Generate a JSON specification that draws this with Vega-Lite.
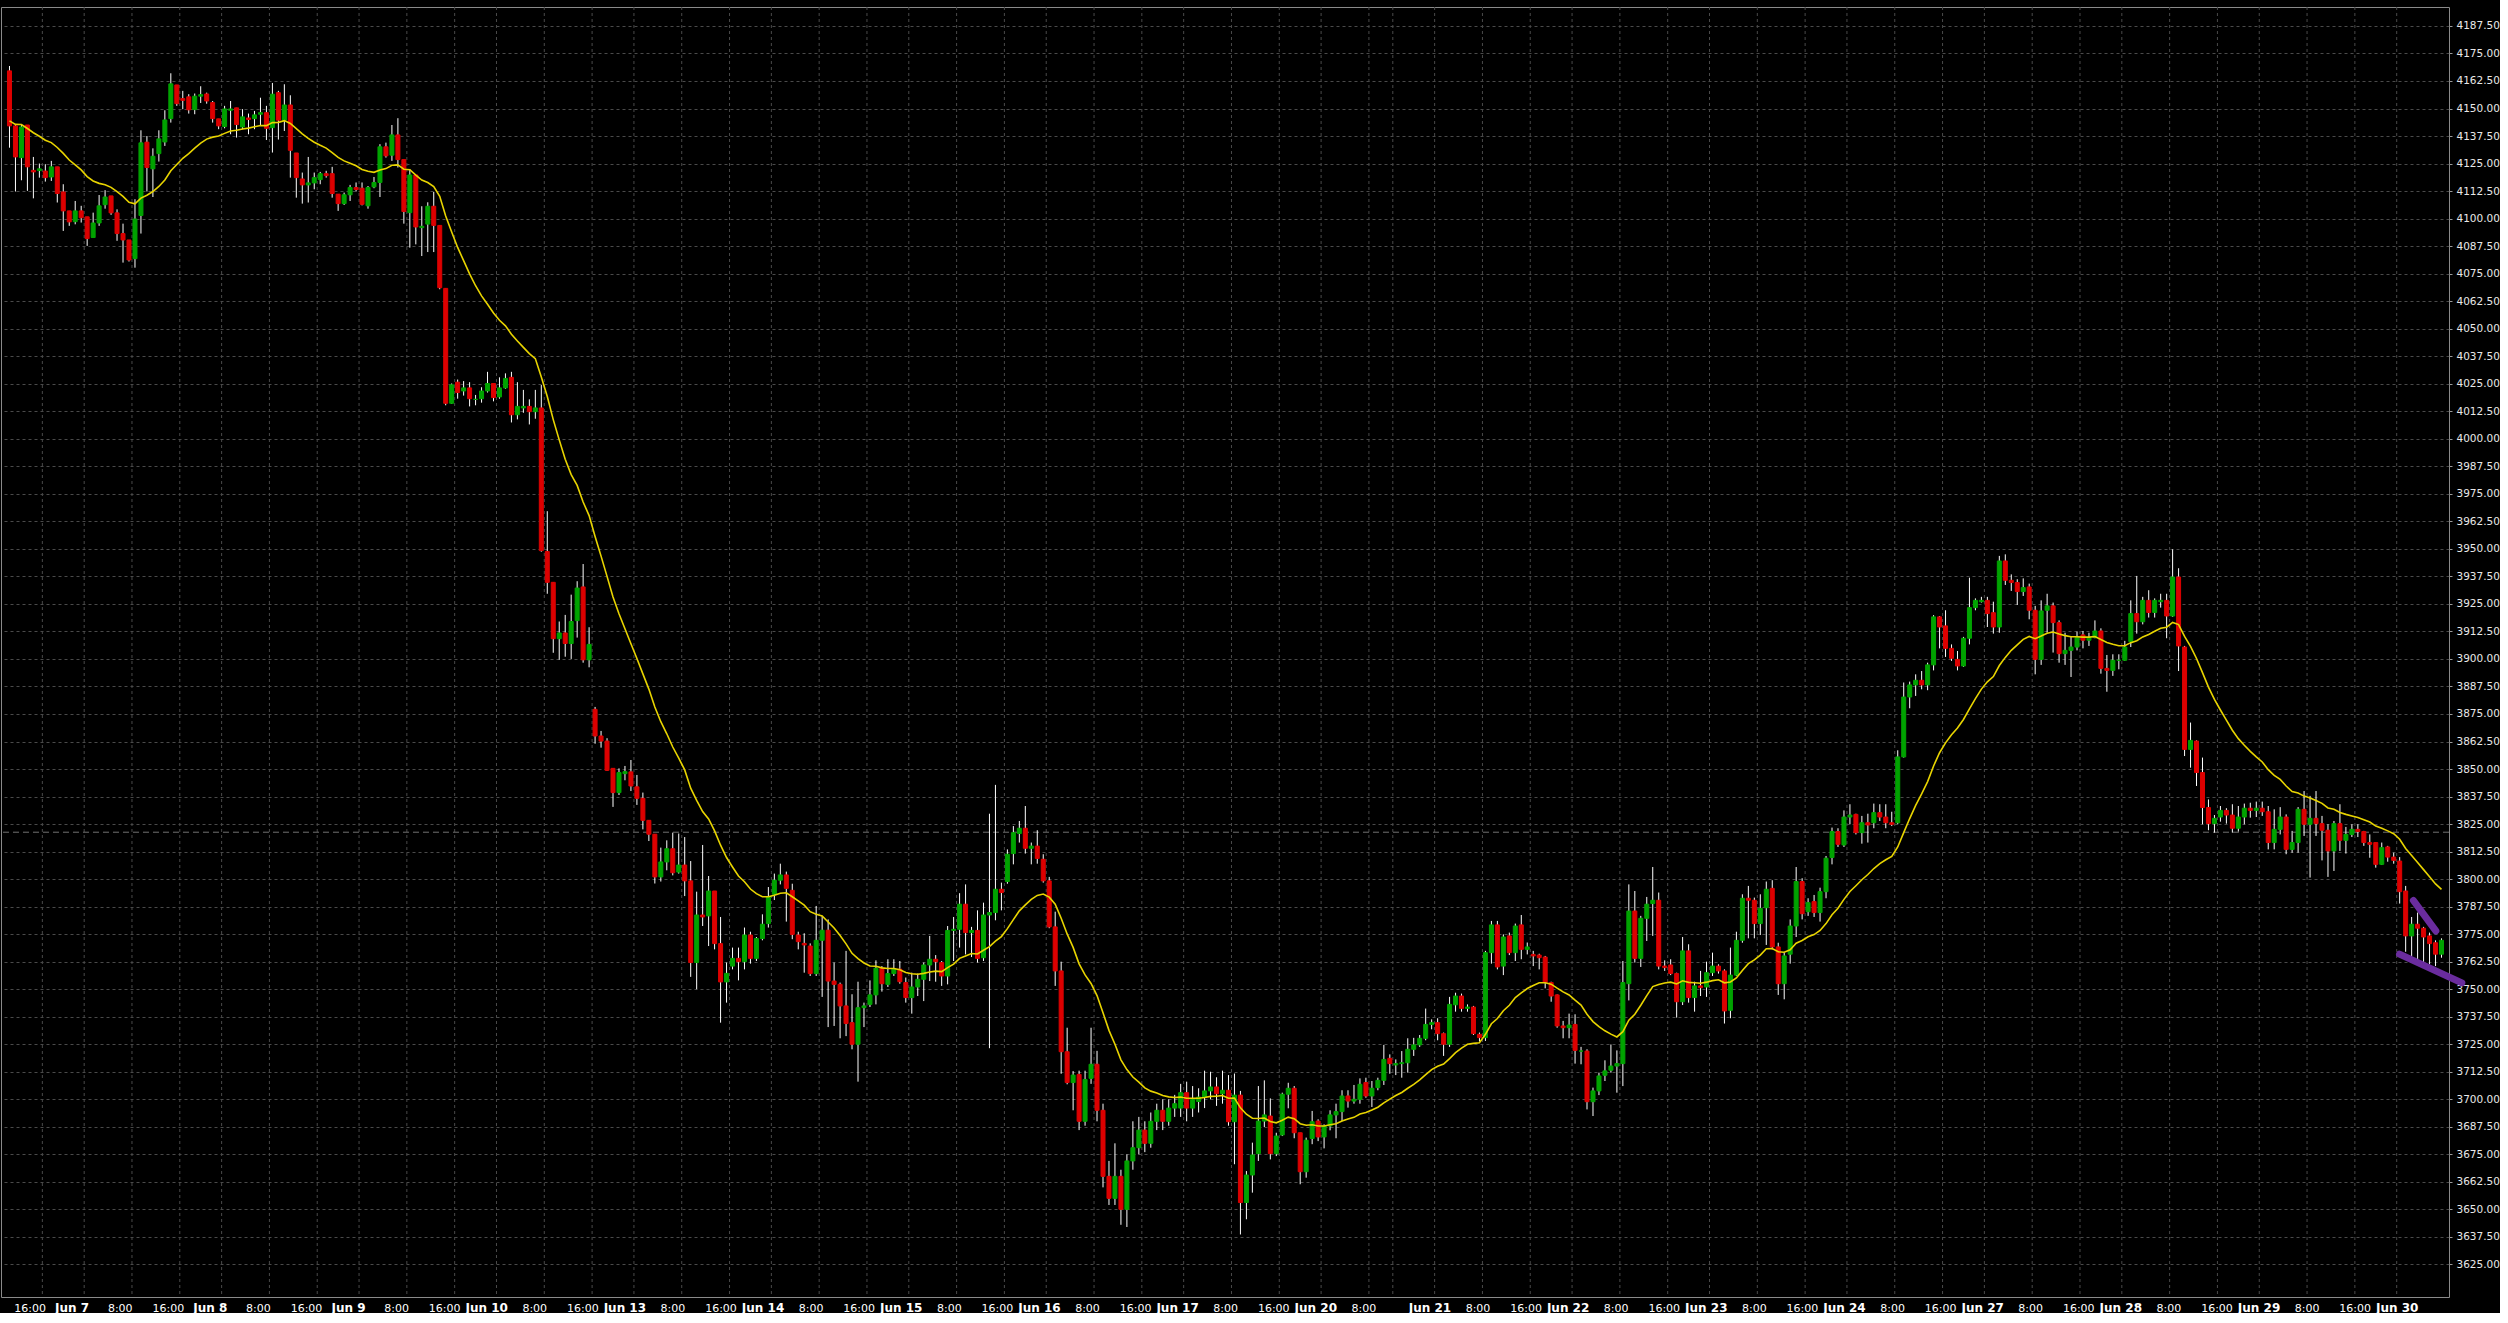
{
"$schema":"https://vega.github.io/schema/vega-lite/v6.json",
"background":"#000000",
"padding":{"left":0,"top":6,"right":0,"bottom":0},
"width":2448,"height":1290,
"config":{"view":{"stroke":"#8a8a8a","strokeWidth":1},"axis":{"labelOverlap":false,"labelFlush":false,"labelBound":false},"axisY":{"labelOverlap":false},"axisRight":{"labelOverlap":false}},
"datasets":{
"cross":[{"v":3821.3}],
"vgrid":[{"g":5.5},{"g":12.5},{"g":20.5},{"g":28.5},{"g":35.5},{"g":43.5},{"g":51.5},{"g":58.5},{"g":66.5},{"g":74.5},{"g":81.5},{"g":89.5},{"g":97.5},{"g":104.5},{"g":112.5},{"g":120.5},{"g":127.5},{"g":135.5},{"g":143.5},{"g":150.5},{"g":158.5},{"g":166.5},{"g":173.5},{"g":181.5},{"g":189.5},{"g":196.5},{"g":204.5},{"g":212.5},{"g":219.5},{"g":227.5},{"g":231.5},{"g":238.5},{"g":246.5},{"g":254.5},{"g":261.5},{"g":269.5},{"g":277.5},{"g":284.5},{"g":292.5},{"g":300.5},{"g":307.5},{"g":315.5},{"g":323.5},{"g":330.5},{"g":338.5},{"g":346.5},{"g":353.5},{"g":361.5},{"g":369.5},{"g":376.5},{"g":384.5},{"g":392.5},{"g":399.5}],
"purple":[{"s":"a","i":402.3,"p":3790.3},{"s":"a","i":406.05,"p":3776.5},{"s":"b","i":399.97,"p":3765.9},{"s":"b","i":410.4,"p":3752.9}],
"candles":[
{"i":0,"o":4167.1,"h":4169.3,"l":4132.2,"c":4142.1,"m":4144.4},
{"i":1,"o":4142.1,"h":4142.8,"l":4112.3,"c":4128.0,"m":4142.8},
{"i":2,"o":4127.7,"h":4142.8,"l":4117.4,"c":4141.6,"m":4142.7},
{"i":3,"o":4142.5,"h":4142.5,"l":4112.6,"c":4123.5,"m":4140.9},
{"i":4,"o":4121.9,"h":4128.0,"l":4109.2,"c":4121.2,"m":4139.0},
{"i":5,"o":4121.8,"h":4125.0,"l":4118.6,"c":4122.6,"m":4137.4},
{"i":6,"o":4121.6,"h":4124.7,"l":4116.8,"c":4118.6,"m":4135.6},
{"i":7,"o":4118.9,"h":4126.2,"l":4117.1,"c":4123.5,"m":4134.5},
{"i":8,"o":4123.5,"h":4123.5,"l":4107.3,"c":4111.4,"m":4132.3},
{"i":9,"o":4112.1,"h":4115.6,"l":4094.4,"c":4103.5,"m":4129.6},
{"i":10,"o":4103.5,"h":4103.5,"l":4096.7,"c":4098.5,"m":4126.6},
{"i":11,"o":4098.6,"h":4108.0,"l":4097.4,"c":4103.5,"m":4124.4},
{"i":12,"o":4103.5,"h":4105.8,"l":4098.2,"c":4100.4,"m":4122.1},
{"i":13,"o":4100.8,"h":4100.8,"l":4087.6,"c":4090.9,"m":4119.1},
{"i":14,"o":4091.4,"h":4102.7,"l":4091.4,"c":4098.0,"m":4117.1},
{"i":15,"o":4098.0,"h":4110.7,"l":4096.7,"c":4105.8,"m":4116.0},
{"i":16,"o":4106.3,"h":4112.9,"l":4104.5,"c":4109.8,"m":4115.4},
{"i":17,"o":4110.3,"h":4110.3,"l":4101.7,"c":4102.6,"m":4114.2},
{"i":18,"o":4102.6,"h":4104.2,"l":4089.9,"c":4093.2,"m":4112.2},
{"i":19,"o":4093.2,"h":4097.7,"l":4080.0,"c":4090.3,"m":4110.1},
{"i":20,"o":4090.3,"h":4090.3,"l":4080.5,"c":4081.2,"m":4107.4},
{"i":21,"o":4081.8,"h":4108.8,"l":4077.7,"c":4099.8,"m":4106.7},
{"i":22,"o":4101.4,"h":4140.1,"l":4093.2,"c":4134.4,"m":4109.3},
{"i":23,"o":4134.7,"h":4137.5,"l":4112.3,"c":4123.2,"m":4110.6},
{"i":24,"o":4122.6,"h":4131.9,"l":4109.8,"c":4128.3,"m":4112.3},
{"i":25,"o":4129.5,"h":4140.1,"l":4125.9,"c":4136.2,"m":4114.6},
{"i":26,"o":4134.8,"h":4149.2,"l":4133.0,"c":4144.8,"m":4117.5},
{"i":27,"o":4145.4,"h":4166.0,"l":4143.6,"c":4161.2,"m":4121.7},
{"i":28,"o":4160.7,"h":4160.7,"l":4151.2,"c":4152.2,"m":4124.6},
{"i":29,"o":4154.5,"h":4158.0,"l":4149.7,"c":4153.7,"m":4127.4},
{"i":30,"o":4155.3,"h":4156.5,"l":4147.7,"c":4149.4,"m":4129.5},
{"i":31,"o":4149.5,"h":4156.8,"l":4147.4,"c":4155.6,"m":4132.0},
{"i":32,"o":4155.6,"h":4160.1,"l":4152.5,"c":4156.3,"m":4134.3},
{"i":33,"o":4156.6,"h":4157.2,"l":4152.2,"c":4153.4,"m":4136.1},
{"i":34,"o":4152.7,"h":4153.4,"l":4143.6,"c":4145.4,"m":4137.0},
{"i":35,"o":4145.3,"h":4145.3,"l":4140.6,"c":4142.1,"m":4137.5},
{"i":36,"o":4141.8,"h":4151.2,"l":4141.0,"c":4149.8,"m":4138.7},
{"i":37,"o":4149.2,"h":4153.4,"l":4138.3,"c":4149.8,"m":4139.8},
{"i":38,"o":4150.3,"h":4150.3,"l":4136.8,"c":4142.7,"m":4140.1},
{"i":39,"o":4141.6,"h":4149.7,"l":4140.6,"c":4146.2,"m":4140.7},
{"i":40,"o":4145.7,"h":4147.7,"l":4138.3,"c":4145.0,"m":4141.1},
{"i":41,"o":4145.4,"h":4148.9,"l":4140.6,"c":4147.1,"m":4141.7},
{"i":42,"o":4147.4,"h":4154.9,"l":4142.1,"c":4148.1,"m":4142.3},
{"i":43,"o":4148.1,"h":4151.2,"l":4135.7,"c":4141.0,"m":4142.2},
{"i":44,"o":4141.3,"h":4161.6,"l":4130.0,"c":4156.5,"m":4143.6},
{"i":45,"o":4157.2,"h":4158.0,"l":4135.9,"c":4144.7,"m":4143.7},
{"i":46,"o":4144.7,"h":4161.0,"l":4139.8,"c":4151.6,"m":4144.5},
{"i":47,"o":4151.6,"h":4156.0,"l":4118.6,"c":4131.0,"m":4143.2},
{"i":48,"o":4129.8,"h":4129.8,"l":4109.5,"c":4118.6,"m":4140.9},
{"i":49,"o":4118.0,"h":4120.9,"l":4106.8,"c":4115.3,"m":4138.5},
{"i":50,"o":4115.3,"h":4128.0,"l":4107.3,"c":4116.2,"m":4136.4},
{"i":51,"o":4116.2,"h":4120.9,"l":4113.3,"c":4118.6,"m":4134.7},
{"i":52,"o":4117.7,"h":4121.2,"l":4115.6,"c":4120.4,"m":4133.3},
{"i":53,"o":4120.4,"h":4121.7,"l":4118.6,"c":4119.5,"m":4132.0},
{"i":54,"o":4120.4,"h":4123.5,"l":4109.5,"c":4111.4,"m":4130.0},
{"i":55,"o":4111.1,"h":4111.1,"l":4103.5,"c":4106.8,"m":4127.8},
{"i":56,"o":4106.8,"h":4111.8,"l":4106.2,"c":4110.8,"m":4126.2},
{"i":57,"o":4110.8,"h":4115.3,"l":4108.0,"c":4114.1,"m":4125.1},
{"i":58,"o":4114.1,"h":4116.4,"l":4112.3,"c":4113.2,"m":4124.0},
{"i":59,"o":4113.8,"h":4116.4,"l":4106.0,"c":4106.5,"m":4122.3},
{"i":60,"o":4105.8,"h":4114.8,"l":4104.5,"c":4114.1,"m":4121.5},
{"i":61,"o":4114.4,"h":4118.9,"l":4113.8,"c":4116.4,"m":4121.0},
{"i":62,"o":4116.4,"h":4133.8,"l":4109.8,"c":4132.6,"m":4122.1},
{"i":63,"o":4132.6,"h":4134.5,"l":4127.7,"c":4128.5,"m":4122.7},
{"i":64,"o":4128.8,"h":4142.5,"l":4126.2,"c":4138.0,"m":4124.2},
{"i":65,"o":4138.0,"h":4145.6,"l":4123.2,"c":4126.8,"m":4124.4},
{"i":66,"o":4126.8,"h":4126.8,"l":4097.7,"c":4103.2,"m":4122.4},
{"i":67,"o":4102.7,"h":4122.4,"l":4086.8,"c":4119.8,"m":4122.2},
{"i":68,"o":4119.8,"h":4119.8,"l":4088.3,"c":4096.2,"m":4119.7},
{"i":69,"o":4095.9,"h":4105.6,"l":4083.0,"c":4096.5,"m":4117.5},
{"i":70,"o":4097.5,"h":4107.4,"l":4084.8,"c":4105.6,"m":4116.4},
{"i":71,"o":4105.6,"h":4112.1,"l":4084.8,"c":4096.9,"m":4114.5},
{"i":72,"o":4096.9,"h":4096.9,"l":4067.9,"c":4068.6,"m":4110.1},
{"i":73,"o":4068.3,"h":4068.3,"l":4015.2,"c":4016.1,"m":4101.2},
{"i":74,"o":4016.1,"h":4025.1,"l":4015.8,"c":4024.5,"m":4093.9},
{"i":75,"o":4025.7,"h":4026.9,"l":4018.2,"c":4021.0,"m":4086.9},
{"i":76,"o":4021.7,"h":4026.2,"l":4019.6,"c":4023.1,"m":4080.9},
{"i":77,"o":4023.1,"h":4025.7,"l":4014.7,"c":4018.2,"m":4074.9},
{"i":78,"o":4017.9,"h":4019.9,"l":4015.2,"c":4017.9,"m":4069.5},
{"i":79,"o":4018.2,"h":4023.4,"l":4016.4,"c":4021.7,"m":4064.9},
{"i":80,"o":4021.7,"h":4030.4,"l":4021.0,"c":4025.1,"m":4061.1},
{"i":81,"o":4025.1,"h":4025.1,"l":4017.0,"c":4018.7,"m":4057.1},
{"i":82,"o":4019.0,"h":4027.9,"l":4018.2,"c":4023.1,"m":4053.8},
{"i":83,"o":4023.1,"h":4029.7,"l":4022.7,"c":4027.4,"m":4051.3},
{"i":84,"o":4027.9,"h":4030.4,"l":4007.4,"c":4010.9,"m":4047.5},
{"i":85,"o":4010.9,"h":4025.7,"l":4008.8,"c":4014.7,"m":4044.4},
{"i":86,"o":4014.0,"h":4022.2,"l":4011.8,"c":4014.7,"m":4041.5},
{"i":87,"o":4014.7,"h":4017.9,"l":4006.5,"c":4012.3,"m":4038.7},
{"i":88,"o":4012.3,"h":4022.2,"l":4009.1,"c":4014.0,"m":4036.4},
{"i":89,"o":4014.0,"h":4024.4,"l":3948.7,"c":3949.2,"m":4028.1},
{"i":90,"o":3948.8,"h":3967.1,"l":3929.6,"c":3934.8,"m":4019.2},
{"i":91,"o":3934.8,"h":3934.8,"l":3902.8,"c":3909.2,"m":4008.7},
{"i":92,"o":3909.2,"h":3917.0,"l":3899.6,"c":3911.8,"m":3999.5},
{"i":93,"o":3911.8,"h":3920.0,"l":3901.0,"c":3907.0,"m":3990.7},
{"i":94,"o":3907.0,"h":3929.2,"l":3900.0,"c":3917.0,"m":3983.7},
{"i":95,"o":3917.4,"h":3935.3,"l":3909.7,"c":3932.2,"m":3978.8},
{"i":96,"o":3932.7,"h":3943.1,"l":3898.3,"c":3899.6,"m":3971.3},
{"i":97,"o":3899.6,"h":3914.4,"l":3896.2,"c":3906.6,"m":3965.1},
{"i":98,"o":3877.1,"h":3878.2,"l":3861.5,"c":3865.0,"m":3955.6},
{"i":99,"o":3865.0,"h":3867.3,"l":3859.7,"c":3862.7,"m":3946.7},
{"i":100,"o":3862.7,"h":3864.0,"l":3849.1,"c":3849.4,"m":3937.5},
{"i":101,"o":3850.3,"h":3850.3,"l":3832.8,"c":3839.3,"m":3928.1},
{"i":102,"o":3839.3,"h":3850.3,"l":3838.2,"c":3848.4,"m":3920.5},
{"i":103,"o":3847.9,"h":3851.4,"l":3844.9,"c":3848.8,"m":3913.7},
{"i":104,"o":3848.7,"h":3854.1,"l":3840.0,"c":3842.3,"m":3906.9},
{"i":105,"o":3841.9,"h":3847.3,"l":3833.7,"c":3836.7,"m":3900.2},
{"i":106,"o":3836.7,"h":3839.3,"l":3822.6,"c":3826.7,"m":3893.2},
{"i":107,"o":3826.7,"h":3826.7,"l":3817.3,"c":3820.4,"m":3886.3},
{"i":108,"o":3820.4,"h":3820.4,"l":3798.0,"c":3801.0,"m":3878.2},
{"i":109,"o":3801.0,"h":3814.3,"l":3798.9,"c":3807.8,"m":3871.5},
{"i":110,"o":3807.8,"h":3817.6,"l":3804.0,"c":3813.8,"m":3866.0},
{"i":111,"o":3813.8,"h":3821.1,"l":3801.7,"c":3802.9,"m":3860.0},
{"i":112,"o":3803.2,"h":3820.7,"l":3802.5,"c":3806.4,"m":3854.9},
{"i":113,"o":3806.4,"h":3819.1,"l":3792.3,"c":3799.2,"m":3849.6},
{"i":114,"o":3799.2,"h":3808.2,"l":3755.6,"c":3762.1,"m":3841.3},
{"i":115,"o":3762.1,"h":3794.3,"l":3750.0,"c":3783.7,"m":3835.8},
{"i":116,"o":3783.7,"h":3815.5,"l":3778.7,"c":3782.8,"m":3830.7},
{"i":117,"o":3783.3,"h":3801.4,"l":3769.6,"c":3794.6,"m":3827.3},
{"i":118,"o":3794.6,"h":3794.6,"l":3768.1,"c":3770.7,"m":3821.9},
{"i":119,"o":3770.7,"h":3782.8,"l":3734.8,"c":3753.3,"m":3815.4},
{"i":120,"o":3753.3,"h":3762.1,"l":3743.9,"c":3757.2,"m":3809.8},
{"i":121,"o":3760.5,"h":3768.9,"l":3759.0,"c":3764.0,"m":3805.5},
{"i":122,"o":3764.0,"h":3768.9,"l":3754.0,"c":3762.5,"m":3801.4},
{"i":123,"o":3762.5,"h":3778.0,"l":3759.0,"c":3774.6,"m":3798.8},
{"i":124,"o":3774.6,"h":3776.1,"l":3761.6,"c":3764.0,"m":3795.5},
{"i":125,"o":3764.0,"h":3773.7,"l":3762.8,"c":3773.0,"m":3793.4},
{"i":126,"o":3773.0,"h":3784.0,"l":3772.2,"c":3779.5,"m":3792.0},
{"i":127,"o":3779.8,"h":3796.4,"l":3778.0,"c":3791.9,"m":3792.0},
{"i":128,"o":3793.1,"h":3802.5,"l":3790.5,"c":3799.5,"m":3792.7},
{"i":129,"o":3799.5,"h":3807.0,"l":3797.6,"c":3801.9,"m":3793.6},
{"i":130,"o":3801.9,"h":3803.4,"l":3780.7,"c":3795.8,"m":3793.8},
{"i":131,"o":3794.9,"h":3797.9,"l":3772.7,"c":3774.9,"m":3792.0},
{"i":132,"o":3774.6,"h":3776.1,"l":3768.1,"c":3771.6,"m":3790.1},
{"i":133,"o":3770.8,"h":3775.4,"l":3757.5,"c":3770.1,"m":3788.2},
{"i":134,"o":3769.6,"h":3770.8,"l":3756.0,"c":3757.1,"m":3785.2},
{"i":135,"o":3757.1,"h":3787.8,"l":3756.0,"c":3772.2,"m":3784.0},
{"i":136,"o":3772.2,"h":3783.3,"l":3746.5,"c":3776.8,"m":3783.3},
{"i":137,"o":3776.8,"h":3781.7,"l":3732.8,"c":3753.7,"m":3780.5},
{"i":138,"o":3753.7,"h":3762.1,"l":3733.3,"c":3752.2,"m":3777.8},
{"i":139,"o":3752.2,"h":3753.0,"l":3727.7,"c":3742.4,"m":3774.4},
{"i":140,"o":3742.4,"h":3767.4,"l":3728.7,"c":3734.4,"m":3770.6},
{"i":141,"o":3734.8,"h":3747.7,"l":3722.7,"c":3725.0,"m":3766.3},
{"i":142,"o":3725.0,"h":3753.4,"l":3708.0,"c":3741.6,"m":3763.9},
{"i":143,"o":3741.6,"h":3743.9,"l":3732.8,"c":3742.4,"m":3761.9},
{"i":144,"o":3743.1,"h":3754.0,"l":3741.9,"c":3747.4,"m":3760.5},
{"i":145,"o":3747.4,"h":3763.1,"l":3743.1,"c":3759.5,"m":3760.4},
{"i":146,"o":3759.5,"h":3760.5,"l":3748.9,"c":3752.5,"m":3759.7},
{"i":147,"o":3752.2,"h":3763.6,"l":3751.0,"c":3757.1,"m":3759.4},
{"i":148,"o":3757.1,"h":3763.6,"l":3756.0,"c":3759.1,"m":3759.4},
{"i":149,"o":3759.1,"h":3762.8,"l":3752.5,"c":3753.4,"m":3758.8},
{"i":150,"o":3753.0,"h":3755.3,"l":3743.9,"c":3746.2,"m":3757.6},
{"i":151,"o":3746.2,"h":3757.5,"l":3738.9,"c":3751.0,"m":3757.0},
{"i":152,"o":3751.0,"h":3757.1,"l":3746.9,"c":3754.5,"m":3756.8},
{"i":153,"o":3754.5,"h":3762.1,"l":3744.6,"c":3761.0,"m":3757.2},
{"i":154,"o":3761.0,"h":3774.2,"l":3753.7,"c":3763.6,"m":3757.8},
{"i":155,"o":3763.6,"h":3765.5,"l":3753.4,"c":3762.5,"m":3758.2},
{"i":156,"o":3762.1,"h":3762.8,"l":3751.5,"c":3756.0,"m":3758.0},
{"i":157,"o":3756.0,"h":3778.7,"l":3752.2,"c":3776.7,"m":3759.8},
{"i":158,"o":3776.7,"h":3782.8,"l":3762.8,"c":3777.2,"m":3761.4},
{"i":159,"o":3777.2,"h":3793.6,"l":3768.9,"c":3788.6,"m":3764.0},
{"i":160,"o":3788.6,"h":3797.6,"l":3765.8,"c":3775.7,"m":3765.1},
{"i":161,"o":3775.7,"h":3778.3,"l":3764.6,"c":3776.7,"m":3766.2},
{"i":162,"o":3776.7,"h":3785.8,"l":3762.1,"c":3764.0,"m":3766.0},
{"i":163,"o":3764.3,"h":3789.3,"l":3762.8,"c":3783.7,"m":3767.7},
{"i":164,"o":3783.7,"h":3829.7,"l":3723.2,"c":3784.8,"m":3769.3},
{"i":165,"o":3784.8,"h":3842.8,"l":3781.3,"c":3795.4,"m":3771.8},
{"i":166,"o":3795.4,"h":3798.4,"l":3785.8,"c":3793.9,"m":3773.9},
{"i":167,"o":3798.9,"h":3813.5,"l":3797.9,"c":3811.3,"m":3777.5},
{"i":168,"o":3811.6,"h":3824.1,"l":3806.7,"c":3821.1,"m":3781.6},
{"i":169,"o":3820.7,"h":3826.4,"l":3816.6,"c":3823.1,"m":3785.6},
{"i":170,"o":3823.1,"h":3833.2,"l":3811.6,"c":3814.0,"m":3788.3},
{"i":171,"o":3814.0,"h":3816.6,"l":3806.7,"c":3815.0,"m":3790.8},
{"i":172,"o":3815.0,"h":3822.2,"l":3807.0,"c":3809.4,"m":3792.6},
{"i":173,"o":3809.0,"h":3811.3,"l":3798.4,"c":3799.2,"m":3793.2},
{"i":174,"o":3799.2,"h":3801.0,"l":3777.7,"c":3778.3,"m":3791.8},
{"i":175,"o":3778.3,"h":3785.2,"l":3751.5,"c":3758.3,"m":3788.6},
{"i":176,"o":3758.3,"h":3762.5,"l":3711.6,"c":3721.6,"m":3782.2},
{"i":177,"o":3721.6,"h":3732.5,"l":3706.8,"c":3707.6,"m":3775.1},
{"i":178,"o":3707.6,"h":3712.8,"l":3695.0,"c":3711.0,"m":3769.0},
{"i":179,"o":3711.3,"h":3713.0,"l":3686.0,"c":3690.0,"m":3761.5},
{"i":180,"o":3690.0,"h":3713.0,"l":3688.0,"c":3709.0,"m":3756.5},
{"i":181,"o":3709.5,"h":3732.5,"l":3707.0,"c":3715.9,"m":3752.6},
{"i":182,"o":3715.9,"h":3722.0,"l":3690.0,"c":3695.0,"m":3747.1},
{"i":183,"o":3695.0,"h":3698.0,"l":3660.0,"c":3665.0,"m":3739.3},
{"i":184,"o":3665.0,"h":3672.0,"l":3652.0,"c":3655.0,"m":3731.3},
{"i":185,"o":3655.0,"h":3680.0,"l":3652.0,"c":3665.0,"m":3725.0},
{"i":186,"o":3665.0,"h":3668.0,"l":3643.0,"c":3650.0,"m":3717.9},
{"i":187,"o":3650.0,"h":3675.0,"l":3642.0,"c":3672.0,"m":3713.5},
{"i":188,"o":3672.0,"h":3690.0,"l":3668.0,"c":3678.0,"m":3710.1},
{"i":189,"o":3678.0,"h":3692.0,"l":3675.0,"c":3686.0,"m":3707.8},
{"i":190,"o":3686.0,"h":3690.0,"l":3676.0,"c":3680.0,"m":3705.2},
{"i":191,"o":3680.0,"h":3694.0,"l":3678.0,"c":3690.0,"m":3703.7},
{"i":192,"o":3690.0,"h":3698.0,"l":3686.0,"c":3695.0,"m":3702.9},
{"i":193,"o":3695.0,"h":3700.0,"l":3686.0,"c":3690.0,"m":3701.7},
{"i":194,"o":3690.0,"h":3700.0,"l":3688.0,"c":3696.0,"m":3701.1},
{"i":195,"o":3696.0,"h":3702.0,"l":3692.0,"c":3698.0,"m":3700.8},
{"i":196,"o":3696.0,"h":3707.0,"l":3692.0,"c":3703.0,"m":3701.0},
{"i":197,"o":3703.0,"h":3708.0,"l":3690.0,"c":3696.0,"m":3700.5},
{"i":198,"o":3696.0,"h":3706.0,"l":3692.0,"c":3700.0,"m":3700.5},
{"i":199,"o":3699.0,"h":3705.0,"l":3694.0,"c":3701.0,"m":3700.5},
{"i":200,"o":3701.0,"h":3713.0,"l":3696.0,"c":3703.8,"m":3700.8},
{"i":201,"o":3703.8,"h":3712.5,"l":3700.0,"c":3705.6,"m":3701.3},
{"i":202,"o":3705.6,"h":3710.0,"l":3697.0,"c":3702.5,"m":3701.4},
{"i":203,"o":3702.5,"h":3713.0,"l":3698.0,"c":3704.1,"m":3701.7},
{"i":204,"o":3704.1,"h":3711.0,"l":3688.0,"c":3689.8,"m":3700.5},
{"i":205,"o":3689.8,"h":3711.7,"l":3670.5,"c":3701.9,"m":3700.6},
{"i":206,"o":3701.9,"h":3703.8,"l":3638.6,"c":3653.1,"m":3696.1},
{"i":207,"o":3653.1,"h":3667.4,"l":3645.5,"c":3665.6,"m":3693.2},
{"i":208,"o":3665.6,"h":3680.3,"l":3657.6,"c":3674.7,"m":3691.4},
{"i":209,"o":3675.3,"h":3706.0,"l":3672.0,"c":3690.1,"m":3691.3},
{"i":210,"o":3690.1,"h":3708.6,"l":3687.4,"c":3692.9,"m":3691.5},
{"i":211,"o":3692.4,"h":3700.4,"l":3672.7,"c":3675.3,"m":3689.9},
{"i":212,"o":3675.3,"h":3684.8,"l":3674.2,"c":3683.3,"m":3689.3},
{"i":213,"o":3683.8,"h":3703.0,"l":3683.3,"c":3702.3,"m":3690.5},
{"i":214,"o":3702.3,"h":3707.5,"l":3695.9,"c":3705.0,"m":3691.9},
{"i":215,"o":3705.0,"h":3706.0,"l":3682.3,"c":3684.8,"m":3691.2},
{"i":216,"o":3684.8,"h":3684.8,"l":3661.4,"c":3667.1,"m":3688.9},
{"i":217,"o":3667.1,"h":3682.6,"l":3664.4,"c":3681.4,"m":3688.2},
{"i":218,"o":3682.2,"h":3694.7,"l":3679.6,"c":3689.8,"m":3688.4},
{"i":219,"o":3690.1,"h":3690.9,"l":3681.0,"c":3682.9,"m":3687.9},
{"i":220,"o":3682.9,"h":3688.6,"l":3677.7,"c":3687.9,"m":3687.9},
{"i":221,"o":3687.9,"h":3695.0,"l":3685.9,"c":3692.9,"m":3688.4},
{"i":222,"o":3692.9,"h":3698.0,"l":3682.3,"c":3694.4,"m":3688.9},
{"i":223,"o":3694.4,"h":3704.1,"l":3690.1,"c":3701.5,"m":3690.1},
{"i":224,"o":3701.5,"h":3704.1,"l":3696.2,"c":3699.2,"m":3691.0},
{"i":225,"o":3699.2,"h":3706.5,"l":3698.0,"c":3700.0,"m":3691.8},
{"i":226,"o":3700.0,"h":3709.5,"l":3698.0,"c":3706.8,"m":3693.3},
{"i":227,"o":3707.6,"h":3709.8,"l":3700.7,"c":3701.5,"m":3694.0},
{"i":228,"o":3701.5,"h":3708.3,"l":3696.5,"c":3705.0,"m":3695.1},
{"i":229,"o":3705.3,"h":3709.8,"l":3704.1,"c":3708.6,"m":3696.4},
{"i":230,"o":3708.6,"h":3724.7,"l":3706.5,"c":3718.1,"m":3698.4},
{"i":231,"o":3718.6,"h":3720.4,"l":3711.6,"c":3716.2,"m":3700.1},
{"i":232,"o":3715.6,"h":3718.1,"l":3711.0,"c":3716.2,"m":3701.7},
{"i":233,"o":3716.2,"h":3721.9,"l":3709.8,"c":3716.6,"m":3703.1},
{"i":234,"o":3716.6,"h":3727.7,"l":3712.1,"c":3722.7,"m":3705.0},
{"i":235,"o":3722.7,"h":3727.9,"l":3719.7,"c":3724.7,"m":3706.8},
{"i":236,"o":3724.7,"h":3729.2,"l":3723.8,"c":3727.7,"m":3708.8},
{"i":237,"o":3727.7,"h":3741.2,"l":3726.8,"c":3734.0,"m":3711.2},
{"i":238,"o":3734.0,"h":3736.3,"l":3731.8,"c":3734.8,"m":3713.5},
{"i":239,"o":3734.8,"h":3736.8,"l":3726.8,"c":3729.8,"m":3715.0},
{"i":240,"o":3729.8,"h":3730.3,"l":3719.7,"c":3725.0,"m":3716.0},
{"i":241,"o":3725.0,"h":3746.5,"l":3723.8,"c":3743.1,"m":3718.5},
{"i":242,"o":3742.9,"h":3748.4,"l":3739.8,"c":3746.9,"m":3721.2},
{"i":243,"o":3746.9,"h":3748.0,"l":3739.8,"c":3741.3,"m":3723.2},
{"i":244,"o":3741.3,"h":3743.1,"l":3739.8,"c":3741.9,"m":3725.0},
{"i":245,"o":3741.9,"h":3742.4,"l":3729.2,"c":3729.8,"m":3725.4},
{"i":246,"o":3729.5,"h":3730.3,"l":3726.2,"c":3728.0,"m":3725.7},
{"i":247,"o":3728.0,"h":3767.4,"l":3726.5,"c":3766.6,"m":3729.5},
{"i":248,"o":3766.6,"h":3781.0,"l":3761.6,"c":3779.2,"m":3734.3},
{"i":249,"o":3779.2,"h":3781.0,"l":3759.0,"c":3760.1,"m":3736.7},
{"i":250,"o":3760.5,"h":3774.9,"l":3756.4,"c":3773.7,"m":3740.2},
{"i":251,"o":3774.2,"h":3775.7,"l":3765.5,"c":3766.6,"m":3742.7},
{"i":252,"o":3766.6,"h":3779.8,"l":3762.8,"c":3778.7,"m":3746.2},
{"i":253,"o":3779.2,"h":3783.7,"l":3763.6,"c":3768.1,"m":3748.3},
{"i":254,"o":3768.1,"h":3771.2,"l":3765.8,"c":3769.2,"m":3750.3},
{"i":255,"o":3765.8,"h":3767.4,"l":3760.5,"c":3765.1,"m":3751.7},
{"i":256,"o":3765.5,"h":3766.1,"l":3759.0,"c":3764.3,"m":3752.9},
{"i":257,"o":3764.6,"h":3765.1,"l":3750.4,"c":3753.0,"m":3752.9},
{"i":258,"o":3753.0,"h":3753.4,"l":3744.3,"c":3746.9,"m":3752.3},
{"i":259,"o":3747.4,"h":3747.6,"l":3732.5,"c":3733.3,"m":3750.5},
{"i":260,"o":3733.3,"h":3735.6,"l":3727.7,"c":3732.5,"m":3748.8},
{"i":261,"o":3732.5,"h":3738.9,"l":3727.7,"c":3733.7,"m":3747.4},
{"i":262,"o":3734.0,"h":3738.6,"l":3716.2,"c":3722.2,"m":3745.0},
{"i":263,"o":3721.9,"h":3723.8,"l":3715.9,"c":3721.9,"m":3742.8},
{"i":264,"o":3721.9,"h":3722.7,"l":3695.4,"c":3698.9,"m":3738.6},
{"i":265,"o":3698.9,"h":3705.3,"l":3692.4,"c":3703.8,"m":3735.3},
{"i":266,"o":3703.8,"h":3712.1,"l":3701.9,"c":3710.6,"m":3733.0},
{"i":267,"o":3710.9,"h":3717.7,"l":3708.3,"c":3712.9,"m":3731.1},
{"i":268,"o":3713.2,"h":3724.9,"l":3712.1,"c":3715.1,"m":3729.6},
{"i":269,"o":3715.1,"h":3722.2,"l":3703.0,"c":3716.2,"m":3728.3},
{"i":270,"o":3716.2,"h":3762.8,"l":3706.0,"c":3753.0,"m":3730.7},
{"i":271,"o":3752.5,"h":3797.6,"l":3744.9,"c":3785.5,"m":3735.9},
{"i":272,"o":3785.5,"h":3794.6,"l":3762.1,"c":3764.0,"m":3738.6},
{"i":273,"o":3764.0,"h":3783.3,"l":3760.1,"c":3782.2,"m":3742.7},
{"i":274,"o":3782.2,"h":3791.9,"l":3771.9,"c":3788.6,"m":3747.1},
{"i":275,"o":3788.9,"h":3805.5,"l":3774.2,"c":3790.4,"m":3751.2},
{"i":276,"o":3790.4,"h":3793.9,"l":3759.0,"c":3760.5,"m":3752.1},
{"i":277,"o":3760.5,"h":3763.1,"l":3758.3,"c":3759.8,"m":3752.8},
{"i":278,"o":3761.0,"h":3763.6,"l":3756.4,"c":3757.1,"m":3753.2},
{"i":279,"o":3757.1,"h":3757.5,"l":3737.1,"c":3744.3,"m":3752.4},
{"i":280,"o":3744.3,"h":3773.7,"l":3742.8,"c":3767.4,"m":3753.8},
{"i":281,"o":3767.4,"h":3770.4,"l":3743.9,"c":3746.2,"m":3753.1},
{"i":282,"o":3746.2,"h":3753.4,"l":3739.8,"c":3751.5,"m":3752.9},
{"i":283,"o":3751.5,"h":3758.3,"l":3746.9,"c":3750.7,"m":3752.7},
{"i":284,"o":3751.0,"h":3762.5,"l":3746.5,"c":3757.5,"m":3753.2},
{"i":285,"o":3757.5,"h":3766.6,"l":3756.0,"c":3760.5,"m":3753.9},
{"i":286,"o":3760.5,"h":3761.3,"l":3757.1,"c":3758.3,"m":3754.3},
{"i":287,"o":3758.3,"h":3759.0,"l":3734.4,"c":3740.1,"m":3752.9},
{"i":288,"o":3740.4,"h":3768.9,"l":3736.8,"c":3756.4,"m":3753.3},
{"i":289,"o":3756.4,"h":3776.1,"l":3756.0,"c":3772.2,"m":3755.1},
{"i":290,"o":3772.2,"h":3793.1,"l":3771.1,"c":3791.3,"m":3758.5},
{"i":291,"o":3791.3,"h":3796.9,"l":3773.1,"c":3790.4,"m":3761.6},
{"i":292,"o":3790.4,"h":3791.6,"l":3773.1,"c":3779.8,"m":3763.3},
{"i":293,"o":3779.8,"h":3793.1,"l":3774.6,"c":3786.7,"m":3765.5},
{"i":294,"o":3787.0,"h":3798.9,"l":3770.1,"c":3795.4,"m":3768.4},
{"i":295,"o":3795.8,"h":3799.5,"l":3768.1,"c":3769.2,"m":3768.5},
{"i":296,"o":3769.2,"h":3771.1,"l":3747.4,"c":3752.5,"m":3767.0},
{"i":297,"o":3752.5,"h":3766.6,"l":3745.4,"c":3765.1,"m":3766.8},
{"i":298,"o":3765.9,"h":3781.7,"l":3761.6,"c":3778.7,"m":3767.9},
{"i":299,"o":3778.7,"h":3805.5,"l":3773.7,"c":3798.9,"m":3770.9},
{"i":300,"o":3798.9,"h":3800.4,"l":3781.7,"c":3784.3,"m":3772.1},
{"i":301,"o":3785.2,"h":3791.3,"l":3783.3,"c":3789.3,"m":3773.8},
{"i":302,"o":3789.8,"h":3792.8,"l":3782.8,"c":3784.8,"m":3774.8},
{"i":303,"o":3784.8,"h":3796.1,"l":3780.7,"c":3794.3,"m":3776.7},
{"i":304,"o":3794.3,"h":3810.5,"l":3791.3,"c":3809.5,"m":3779.8},
{"i":305,"o":3809.8,"h":3823.4,"l":3806.7,"c":3821.6,"m":3783.8},
{"i":306,"o":3821.6,"h":3823.1,"l":3814.6,"c":3815.8,"m":3786.8},
{"i":307,"o":3815.5,"h":3831.2,"l":3814.6,"c":3828.2,"m":3790.8},
{"i":308,"o":3828.2,"h":3834.0,"l":3824.9,"c":3829.1,"m":3794.4},
{"i":309,"o":3829.4,"h":3829.7,"l":3820.3,"c":3821.1,"m":3797.0},
{"i":310,"o":3821.1,"h":3828.7,"l":3816.1,"c":3825.6,"m":3799.7},
{"i":311,"o":3825.6,"h":3829.7,"l":3816.6,"c":3824.6,"m":3802.1},
{"i":312,"o":3825.6,"h":3834.3,"l":3823.1,"c":3830.2,"m":3804.8},
{"i":313,"o":3830.2,"h":3834.0,"l":3826.4,"c":3828.2,"m":3807.0},
{"i":314,"o":3828.2,"h":3834.0,"l":3823.1,"c":3825.6,"m":3808.8},
{"i":315,"o":3825.6,"h":3830.6,"l":3824.1,"c":3824.9,"m":3810.3},
{"i":316,"o":3825.6,"h":3858.5,"l":3824.9,"c":3855.5,"m":3814.6},
{"i":317,"o":3855.5,"h":3889.3,"l":3855.2,"c":3882.7,"m":3821.1},
{"i":318,"o":3882.7,"h":3889.7,"l":3877.6,"c":3888.2,"m":3827.5},
{"i":319,"o":3888.2,"h":3893.0,"l":3883.2,"c":3890.3,"m":3833.5},
{"i":320,"o":3890.3,"h":3894.5,"l":3886.2,"c":3888.2,"m":3838.7},
{"i":321,"o":3888.2,"h":3898.3,"l":3885.8,"c":3897.3,"m":3844.3},
{"i":322,"o":3897.3,"h":3919.9,"l":3894.8,"c":3919.1,"m":3851.4},
{"i":323,"o":3919.1,"h":3919.5,"l":3904.8,"c":3914.5,"m":3857.4},
{"i":324,"o":3915.0,"h":3922.1,"l":3900.9,"c":3904.8,"m":3861.9},
{"i":325,"o":3904.8,"h":3906.6,"l":3899.1,"c":3900.3,"m":3865.6},
{"i":326,"o":3899.8,"h":3903.6,"l":3894.8,"c":3896.8,"m":3868.6},
{"i":327,"o":3896.8,"h":3910.0,"l":3896.4,"c":3909.4,"m":3872.5},
{"i":328,"o":3909.4,"h":3936.9,"l":3906.6,"c":3923.3,"m":3877.3},
{"i":329,"o":3923.3,"h":3927.5,"l":3922.1,"c":3926.6,"m":3882.0},
{"i":330,"o":3926.0,"h":3928.2,"l":3925.6,"c":3926.6,"m":3886.3},
{"i":331,"o":3926.6,"h":3928.2,"l":3914.5,"c":3920.6,"m":3889.6},
{"i":332,"o":3921.0,"h":3926.0,"l":3911.5,"c":3914.5,"m":3892.0},
{"i":333,"o":3914.5,"h":3946.8,"l":3911.9,"c":3944.5,"m":3897.0},
{"i":334,"o":3944.5,"h":3947.5,"l":3933.6,"c":3935.7,"m":3900.7},
{"i":335,"o":3935.7,"h":3938.4,"l":3930.9,"c":3934.7,"m":3903.9},
{"i":336,"o":3934.7,"h":3936.2,"l":3924.5,"c":3930.6,"m":3906.4},
{"i":337,"o":3930.6,"h":3936.6,"l":3928.6,"c":3932.4,"m":3908.9},
{"i":338,"o":3932.7,"h":3934.2,"l":3918.0,"c":3922.1,"m":3910.2},
{"i":339,"o":3922.1,"h":3924.1,"l":3893.0,"c":3899.8,"m":3909.2},
{"i":340,"o":3899.8,"h":3926.6,"l":3897.3,"c":3921.8,"m":3910.4},
{"i":341,"o":3922.1,"h":3929.6,"l":3911.9,"c":3924.1,"m":3911.7},
{"i":342,"o":3924.1,"h":3925.6,"l":3902.9,"c":3916.5,"m":3912.2},
{"i":343,"o":3916.5,"h":3917.5,"l":3898.3,"c":3902.4,"m":3911.3},
{"i":344,"o":3902.4,"h":3911.9,"l":3897.3,"c":3903.9,"m":3910.6},
{"i":345,"o":3903.9,"h":3910.4,"l":3891.8,"c":3905.4,"m":3910.1},
{"i":346,"o":3905.4,"h":3912.4,"l":3903.9,"c":3909.7,"m":3910.1},
{"i":347,"o":3910.9,"h":3912.7,"l":3904.8,"c":3908.5,"m":3909.9},
{"i":348,"o":3908.5,"h":3911.9,"l":3905.9,"c":3909.7,"m":3909.9},
{"i":349,"o":3909.7,"h":3917.5,"l":3909.4,"c":3912.7,"m":3910.2},
{"i":350,"o":3912.7,"h":3913.9,"l":3893.3,"c":3895.7,"m":3908.8},
{"i":351,"o":3895.7,"h":3901.8,"l":3885.1,"c":3894.8,"m":3907.5},
{"i":352,"o":3894.8,"h":3902.1,"l":3892.3,"c":3899.4,"m":3906.7},
{"i":353,"o":3899.4,"h":3902.1,"l":3895.3,"c":3899.4,"m":3906.0},
{"i":354,"o":3899.4,"h":3908.2,"l":3899.1,"c":3905.4,"m":3906.0},
{"i":355,"o":3907.9,"h":3926.6,"l":3905.4,"c":3920.6,"m":3907.4},
{"i":356,"o":3920.6,"h":3937.7,"l":3911.5,"c":3916.9,"m":3908.3},
{"i":357,"o":3916.9,"h":3928.2,"l":3915.7,"c":3926.6,"m":3910.0},
{"i":358,"o":3926.6,"h":3931.2,"l":3918.8,"c":3921.1,"m":3911.1},
{"i":359,"o":3921.1,"h":3927.5,"l":3918.8,"c":3926.6,"m":3912.6},
{"i":360,"o":3926.0,"h":3929.6,"l":3923.3,"c":3926.6,"m":3913.9},
{"i":361,"o":3926.6,"h":3929.6,"l":3909.4,"c":3919.5,"m":3914.4},
{"i":362,"o":3919.5,"h":3949.8,"l":3919.1,"c":3937.2,"m":3916.6},
{"i":363,"o":3937.2,"h":3941.2,"l":3894.5,"c":3905.9,"m":3915.6},
{"i":364,"o":3905.4,"h":3905.9,"l":3855.9,"c":3858.9,"m":3910.2},
{"i":365,"o":3858.9,"h":3871.1,"l":3850.6,"c":3863.0,"m":3905.7},
{"i":366,"o":3862.7,"h":3863.0,"l":3842.3,"c":3848.4,"m":3900.2},
{"i":367,"o":3848.4,"h":3855.2,"l":3824.9,"c":3832.5,"m":3893.8},
{"i":368,"o":3832.5,"h":3836.2,"l":3822.2,"c":3825.2,"m":3887.2},
{"i":369,"o":3825.2,"h":3829.1,"l":3821.1,"c":3827.6,"m":3881.6},
{"i":370,"o":3828.2,"h":3833.2,"l":3826.1,"c":3831.2,"m":3876.8},
{"i":371,"o":3831.2,"h":3832.2,"l":3825.2,"c":3829.1,"m":3872.2},
{"i":372,"o":3829.1,"h":3834.0,"l":3821.1,"c":3823.1,"m":3867.6},
{"i":373,"o":3823.1,"h":3833.2,"l":3821.6,"c":3828.2,"m":3863.8},
{"i":374,"o":3828.2,"h":3834.3,"l":3824.9,"c":3832.2,"m":3860.8},
{"i":375,"o":3832.2,"h":3834.7,"l":3827.9,"c":3831.2,"m":3858.0},
{"i":376,"o":3831.2,"h":3835.2,"l":3828.2,"c":3832.2,"m":3855.5},
{"i":377,"o":3832.2,"h":3835.2,"l":3828.7,"c":3830.6,"m":3853.2},
{"i":378,"o":3830.6,"h":3833.2,"l":3813.5,"c":3816.6,"m":3849.7},
{"i":379,"o":3816.6,"h":3831.7,"l":3813.5,"c":3822.6,"m":3847.1},
{"i":380,"o":3822.6,"h":3832.7,"l":3820.3,"c":3828.2,"m":3845.3},
{"i":381,"o":3828.2,"h":3829.4,"l":3811.3,"c":3813.5,"m":3842.3},
{"i":382,"o":3813.5,"h":3821.9,"l":3812.0,"c":3816.6,"m":3839.8},
{"i":383,"o":3816.6,"h":3832.7,"l":3812.0,"c":3831.7,"m":3839.1},
{"i":384,"o":3831.7,"h":3840.0,"l":3819.6,"c":3824.9,"m":3837.7},
{"i":385,"o":3824.9,"h":3837.8,"l":3800.7,"c":3827.6,"m":3836.8},
{"i":386,"o":3827.6,"h":3840.0,"l":3819.6,"c":3825.2,"m":3835.7},
{"i":387,"o":3825.2,"h":3828.7,"l":3808.5,"c":3822.2,"m":3834.4},
{"i":388,"o":3822.2,"h":3824.9,"l":3801.0,"c":3812.8,"m":3832.3},
{"i":389,"o":3812.8,"h":3826.4,"l":3803.7,"c":3825.2,"m":3831.7},
{"i":390,"o":3825.2,"h":3834.0,"l":3812.8,"c":3817.6,"m":3830.3},
{"i":391,"o":3817.6,"h":3823.7,"l":3811.6,"c":3820.3,"m":3829.4},
{"i":392,"o":3820.3,"h":3824.9,"l":3819.1,"c":3822.6,"m":3828.7},
{"i":393,"o":3822.6,"h":3824.9,"l":3819.1,"c":3821.6,"m":3828.0},
{"i":394,"o":3821.6,"h":3821.9,"l":3815.1,"c":3816.6,"m":3827.0},
{"i":395,"o":3816.6,"h":3820.3,"l":3809.7,"c":3815.8,"m":3825.9},
{"i":396,"o":3816.6,"h":3816.6,"l":3805.2,"c":3806.7,"m":3824.1},
{"i":397,"o":3806.7,"h":3816.6,"l":3806.4,"c":3814.3,"m":3823.1},
{"i":398,"o":3814.6,"h":3815.1,"l":3807.9,"c":3810.0,"m":3821.9},
{"i":399,"o":3810.0,"h":3812.0,"l":3807.0,"c":3808.5,"m":3820.6},
{"i":400,"o":3808.2,"h":3810.0,"l":3788.9,"c":3794.3,"m":3818.1},
{"i":401,"o":3794.6,"h":3796.9,"l":3767.0,"c":3774.2,"m":3813.9},
{"i":402,"o":3774.2,"h":3782.8,"l":3765.1,"c":3779.5,"m":3810.7},
{"i":403,"o":3779.5,"h":3784.8,"l":3762.1,"c":3777.7,"m":3807.5},
{"i":404,"o":3777.7,"h":3778.3,"l":3761.3,"c":3773.7,"m":3804.3},
{"i":405,"o":3774.2,"h":3775.7,"l":3761.3,"c":3770.7,"m":3801.1},
{"i":406,"o":3771.1,"h":3772.2,"l":3760.5,"c":3765.9,"m":3797.8},
{"i":407,"o":3765.9,"h":3773.1,"l":3764.3,"c":3772.2,"m":3795.3}
]},
"layer":[
{"data":{"name":"vgrid"},
 "mark":{"type":"rule","color":"#4a4a4a","strokeDash":[3,3],"strokeWidth":1},
 "encoding":{
  "x":{"field":"g","type":"quantitative","scale":{"domain":[-0.5833,407.4167],"nice":false,"zero":false},
   "axis":{"values":[3.37,10.40,18.45,26.49,33.53,41.57,49.62,56.65,64.70,72.74,79.78,87.82,95.87,102.90,110.95,118.99,126.03,134.07,142.11,149.15,157.20,165.24,172.28,180.32,188.36,195.40,203.44,211.49,218.53,226.57,237.63,245.67,253.72,260.75,268.80,276.84,283.88,291.92,299.97,307.00,315.05,323.09,330.13,338.17,346.21,353.25,361.30,369.34,376.38,384.42,392.46,399.50],
    "labelExpr":"{'3':'16:00','10':'Jun 7','18':'8:00','26':'16:00','34':'Jun 8','42':'8:00','50':'16:00','57':'Jun 9','65':'8:00','73':'16:00','80':'Jun 10','88':'8:00','96':'16:00','103':'Jun 13','111':'8:00','119':'16:00','126':'Jun 14','134':'8:00','142':'16:00','149':'Jun 15','157':'8:00','165':'16:00','172':'Jun 16','180':'8:00','188':'16:00','195':'Jun 17','203':'8:00','211':'16:00','219':'Jun 20','227':'8:00','238':'Jun 21','246':'8:00','254':'16:00','261':'Jun 22','269':'8:00','277':'16:00','284':'Jun 23','292':'8:00','300':'16:00','307':'Jun 24','315':'8:00','323':'16:00','330':'Jun 27','338':'8:00','346':'16:00','353':'Jun 28','361':'8:00','369':'16:00','376':'Jun 29','384':'8:00','392':'16:00','400':'Jun 30'}[''+round(datum.value)]",
    "grid":false,"ticks":false,"domain":false,"title":null,
    "labelColor":"#ffffff","labelFont":"DejaVu Sans",
    "labelFontSize":{"condition":{"test":"indexof([10,34,57,80,103,126,149,172,195,219,238,261,284,307,330,353,376,400], round(datum.value)) >= 0","value":12},"value":11},
    "labelFontWeight":{"condition":{"test":"indexof([10,34,57,80,103,126,149,172,195,219,238,261,284,307,330,353,376,400], round(datum.value)) >= 0","value":"bold"},"value":"normal"},
    "labelPadding":5,"labelOverlap":false,"labelFlush":false,"labelBound":false}}}},
{"data":{"name":"cross"},
 "mark":{"type":"rule","color":"#707070","strokeDash":[6,4],"strokeWidth":1},
 "encoding":{"y":{"field":"v","type":"quantitative","scale":{"domain":[3610.2,4196.1],"nice":false,"zero":false},
   "axis":{"orient":"right","values":[3625,3637.5,3650,3662.5,3675,3687.5,3700,3712.5,3725,3737.5,3750,3762.5,3775,3787.5,3800,3812.5,3825,3837.5,3850,3862.5,3875,3887.5,3900,3912.5,3925,3937.5,3950,3962.5,3975,3987.5,4000,4012.5,4025,4037.5,4050,4062.5,4075,4087.5,4100,4112.5,4125,4137.5,4150,4162.5,4175,4187.5],"format":".2f","grid":true,"gridColor":"#4a4a4a","gridDash":[3,3],"gridWidth":1,"ticks":true,"tickSize":3,"tickColor":"#9a9a9a","domain":false,"title":null,"labelColor":"#e8e8e8","labelFont":"DejaVu Sans","labelFontSize":10.5,"labelPadding":4,"labelOverlap":false,"labelSeparation":0,"labelFlush":false,"labelBound":false}}}},
{"data":{"name":"candles"},
 "mark":{"type":"rule","color":"#ffffff","strokeWidth":1},
 "encoding":{
  "x":{"field":"i","type":"quantitative","scale":{"domain":[-0.5833,407.4167],"nice":false,"zero":false}},
  "y":{"field":"l","type":"quantitative","scale":{"domain":[3610.2,4196.1],"nice":false,"zero":false},
   "axis":{"orient":"right","values":[3625,3637.5,3650,3662.5,3675,3687.5,3700,3712.5,3725,3737.5,3750,3762.5,3775,3787.5,3800,3812.5,3825,3837.5,3850,3862.5,3875,3887.5,3900,3912.5,3925,3937.5,3950,3962.5,3975,3987.5,4000,4012.5,4025,4037.5,4050,4062.5,4075,4087.5,4100,4112.5,4125,4137.5,4150,4162.5,4175,4187.5],"format":".2f","grid":true,"gridColor":"#4a4a4a","gridDash":[3,3],"gridWidth":1,"ticks":true,"tickSize":3,"tickColor":"#9a9a9a","domain":false,"title":null,"labelColor":"#e8e8e8","labelFont":"DejaVu Sans","labelFontSize":10.5,"labelPadding":4,"labelOverlap":false,"labelSeparation":0,"labelFlush":false,"labelBound":false}},
  "y2":{"field":"h"}}},
{"data":{"name":"candles"},
 "mark":{"type":"bar","size":4,"strokeWidth":1},
 "encoding":{
  "x":{"field":"i","type":"quantitative","scale":{"domain":[-0.5833,407.4167],"nice":false,"zero":false}},
  "y":{"field":"o","type":"quantitative","scale":{"domain":[3610.2,4196.1],"nice":false,"zero":false},
   "axis":{"orient":"right","values":[3625,3637.5,3650,3662.5,3675,3687.5,3700,3712.5,3725,3737.5,3750,3762.5,3775,3787.5,3800,3812.5,3825,3837.5,3850,3862.5,3875,3887.5,3900,3912.5,3925,3937.5,3950,3962.5,3975,3987.5,4000,4012.5,4025,4037.5,4050,4062.5,4075,4087.5,4100,4112.5,4125,4137.5,4150,4162.5,4175,4187.5],"format":".2f","grid":true,"gridColor":"#4a4a4a","gridDash":[3,3],"gridWidth":1,"ticks":true,"tickSize":3,"tickColor":"#9a9a9a","domain":false,"title":null,"labelColor":"#e8e8e8","labelFont":"DejaVu Sans","labelFontSize":10.5,"labelPadding":4,"labelOverlap":false,"labelSeparation":0,"labelFlush":false,"labelBound":false}},
  "y2":{"field":"c"},
  "color":{"condition":{"test":"datum.c >= datum.o","value":"#00a300"},"value":"#dd0000"},
  "stroke":{"condition":{"test":"datum.c >= datum.o","value":"#00a300"},"value":"#dd0000"}}},
{"data":{"name":"candles"},
 "mark":{"type":"line","color":"#e8d400","strokeWidth":1.6},
 "encoding":{
  "x":{"field":"i","type":"quantitative","scale":{"domain":[-0.5833,407.4167],"nice":false,"zero":false}},
  "y":{"field":"m","type":"quantitative","scale":{"domain":[3610.2,4196.1],"nice":false,"zero":false},
   "axis":{"orient":"right","values":[3625,3637.5,3650,3662.5,3675,3687.5,3700,3712.5,3725,3737.5,3750,3762.5,3775,3787.5,3800,3812.5,3825,3837.5,3850,3862.5,3875,3887.5,3900,3912.5,3925,3937.5,3950,3962.5,3975,3987.5,4000,4012.5,4025,4037.5,4050,4062.5,4075,4087.5,4100,4112.5,4125,4137.5,4150,4162.5,4175,4187.5],"format":".2f","grid":true,"gridColor":"#4a4a4a","gridDash":[3,3],"gridWidth":1,"ticks":true,"tickSize":3,"tickColor":"#9a9a9a","domain":false,"title":null,"labelColor":"#e8e8e8","labelFont":"DejaVu Sans","labelFontSize":10.5,"labelPadding":4,"labelOverlap":false,"labelSeparation":0,"labelFlush":false,"labelBound":false}}}},
{"data":{"name":"purple"},
 "mark":{"type":"line","color":"#6a2c9e","strokeWidth":7,"strokeCap":"round","clip":false},
 "encoding":{
  "x":{"field":"i","type":"quantitative","scale":{"domain":[-0.5833,407.4167],"nice":false,"zero":false}},
  "y":{"field":"p","type":"quantitative","scale":{"domain":[3610.2,4196.1],"nice":false,"zero":false},
   "axis":{"orient":"right","values":[3625,3637.5,3650,3662.5,3675,3687.5,3700,3712.5,3725,3737.5,3750,3762.5,3775,3787.5,3800,3812.5,3825,3837.5,3850,3862.5,3875,3887.5,3900,3912.5,3925,3937.5,3950,3962.5,3975,3987.5,4000,4012.5,4025,4037.5,4050,4062.5,4075,4087.5,4100,4112.5,4125,4137.5,4150,4162.5,4175,4187.5],"format":".2f","grid":true,"gridColor":"#4a4a4a","gridDash":[3,3],"gridWidth":1,"ticks":true,"tickSize":3,"tickColor":"#9a9a9a","domain":false,"title":null,"labelColor":"#e8e8e8","labelFont":"DejaVu Sans","labelFontSize":10.5,"labelPadding":4,"labelOverlap":false,"labelSeparation":0,"labelFlush":false,"labelBound":false}},
  "detail":{"field":"s"}}}
]
}
